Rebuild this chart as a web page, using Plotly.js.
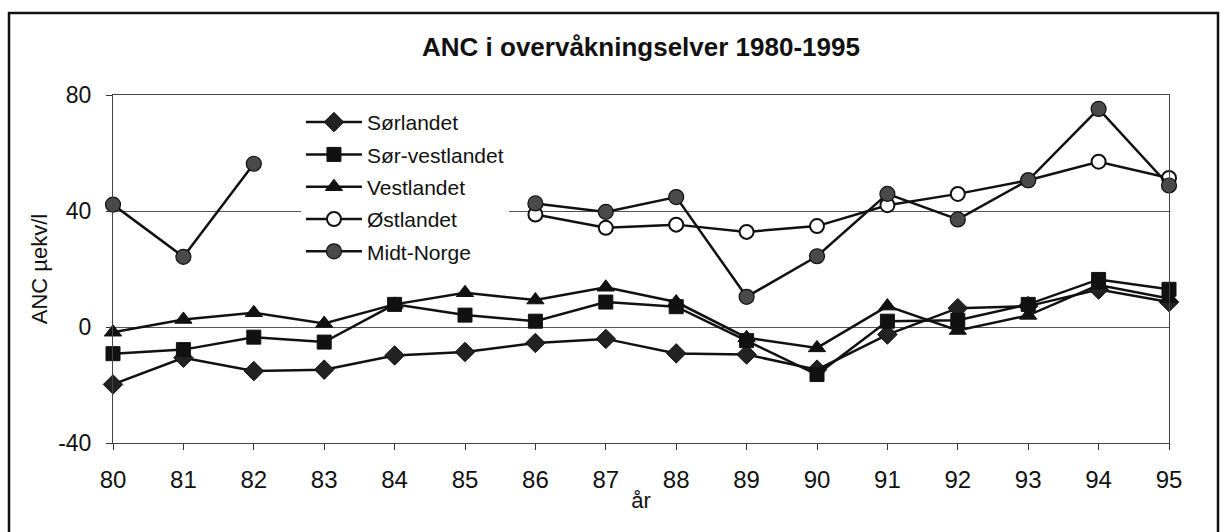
<!DOCTYPE html>
<html>
<head>
<meta charset="utf-8">
<script src="https://cdn.plot.ly/plotly-3.0.1.min.js"></script>
<style>
html,body{margin:0;padding:0;background:#fff;}
#chart{width:1228px;height:532px;}
</style>
</head>
<body>
<div id="chart"></div>
<script>
// Years (x axis) and tick labels
var years = [80,81,82,83,84,85,86,87,88,89,90,91,92,93,94,95];
var yearLabels = ["80","81","82","83","84","85","86","87","88","89","90","91","92","93","94","95"];

// Series values (ANC µekv/l)
var sorlandet     = [-19.8,-10.6,-15.2,-14.7,-9.8,-8.6,-5.5,-4.1,-9.1,-9.5,-14.7,-2.6,6.5,7.2,12.9,8.6];
var sorVestlandet = [-9.2,-7.8,-3.5,-5.2,7.8,4.1,2.0,8.6,7.0,-4.7,-16.4,2.0,2.3,7.8,16.4,13.0];
var vestlandet    = [-1.8,2.6,4.9,1.2,7.8,11.8,9.3,13.7,8.6,-3.7,-7.2,7.2,-1.2,4.0,14.5,9.8];
var ostlandet     = [null,null,null,null,null,null,38.8,34.2,35.3,32.8,34.8,42.0,45.9,50.6,57.0,51.4];
var midtNorge     = [42.2,24.2,56.3,null,null,null,42.6,39.7,44.8,10.4,24.4,45.9,37.1,50.6,75.2,48.8];

var seriesNames = ["Sørlandet","Sør-vestlandet","Vestlandet","Østlandet","Midt-Norge"];

var FONT = "Liberation Sans, Arial, Helvetica, sans-serif";

function tr(name, y, symbol, size, fill, lineColor, lw, grp){
  return {
    type: "scatter", mode: "lines+markers", name: name, x: years, y: y,
    legendgroup: grp, cliponaxis: false, connectgaps: false,
    line: {color: "#111", width: 2.5},
    marker: {symbol: symbol, size: size, color: fill, line: {color: lineColor, width: lw}}
  };
}

var data = [
  tr(seriesNames[0], sorlandet, "diamond", 15, "#222", "#111", 1, "a"),
  tr(seriesNames[1], sorVestlandet, "square", 14, "#111", "#111", 1, "b"),
  tr(seriesNames[2], vestlandet, "triangle-up", 15, "#111", "#111", 1, "c"),
  tr(seriesNames[3], ostlandet, "circle", 14, "#fff", "#111", 2, "d"),
  tr(seriesNames[4], midtNorge, "circle", 15, "#4a4a4a", "#111", 1.2, "e")
];

var layout = {
  width: 1228, height: 532,
  paper_bgcolor: "#fff", plot_bgcolor: "#fff",
  margin: {l: 113, r: 59, t: 95, b: 89},
  font: {family: FONT, color: "#111", size: 22},
  title: {text: "<b>ANC i overvåkningselver 1980-1995</b>", font: {family: FONT, size: 26, color: "#111"},
          x: 0.5, xref: "paper", xanchor: "center", y: 1 - 47/532, yanchor: "middle"},
  showlegend: true,
  legend: {x: 0.178, xanchor: "left", y: 0.98, yanchor: "top", bgcolor: "#fff",
           borderwidth: 0, font: {family: FONT, size: 21, color: "#111"},
           traceorder: "grouped", tracegroupgap: 2, itemwidth: 56},
  xaxis: {
    range: [80, 95], tickmode: "array", tickvals: years, ticktext: yearLabels,
    ticks: "outside", ticklen: 6, tickcolor: "#333", tickwidth: 1,
    showline: true, linecolor: "#444", linewidth: 1, mirror: true,
    showgrid: false, zeroline: false, automargin: false,
    tickfont: {family: FONT, size: 24, color: "#111"},
    ticklabelstandoff: 9,
    title: {text: "år", font: {family: FONT, size: 22, color: "#111"}, standoff: 0}
  },
  yaxis: {
    range: [-40, 80], tickmode: "array", tickvals: [-40, 0, 40, 80], ticktext: ["-40","0","40","80"],
    ticks: "outside", ticklen: 6, tickcolor: "#333", tickwidth: 1,
    showline: true, linecolor: "#444", linewidth: 1, mirror: true,
    showgrid: true, gridcolor: "#555", gridwidth: 1, zeroline: false, automargin: false,
    tickfont: {family: FONT, size: 23, color: "#111"},
    ticklabelstandoff: 10,
    title: {text: "ANC µekv/l", font: {family: FONT, size: 22, color: "#111"}, standoff: 4}
  },
  shapes: [{
    type: "rect", xref: "paper", yref: "paper", layer: "above",
    x0: (9 - 113) / 1056, x1: (1218 - 113) / 1056,
    y0: (443 - 540) / 348, y1: (443 - 13) / 348,
    line: {color: "#111", width: 2.5}, fillcolor: "rgba(0,0,0,0)"
  }]
};

Plotly.newPlot("chart", data, layout, {displayModeBar: false, staticPlot: true});
</script>
</body>
</html>
